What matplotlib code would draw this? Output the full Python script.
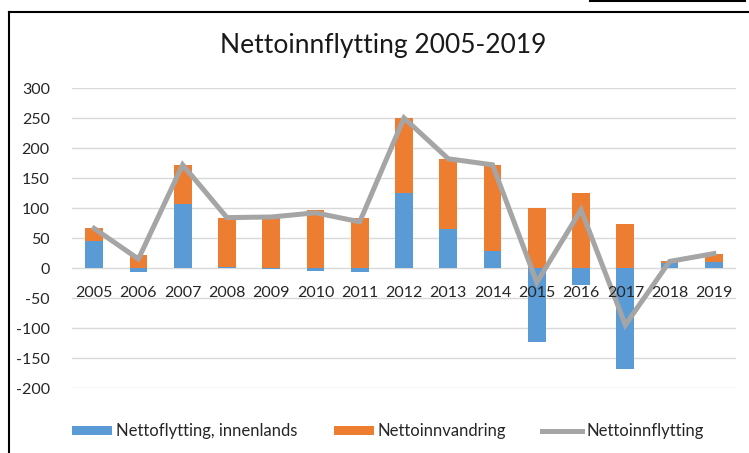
import matplotlib
matplotlib.use("Agg")
import matplotlib.pyplot as plt
from matplotlib.lines import Line2D
import numpy as np

years = ["2005", "2006", "2007", "2008", "2009", "2010", "2011", "2012",
         "2013", "2014", "2015", "2016", "2017", "2018", "2019"]
innenlands = [45, -6, 107, 1, -1, -5, -7, 125, 65, 29, -124, -28, -168, 8, 10]
innvandring = [21, 21, 65, 83, 86, 97, 84, 125, 117, 143, 100, 125, 73, 3, 14]
nettoinnflytting = [66, 15, 172, 84, 85, 92, 77, 250, 182, 172, -24, 97, -95, 11, 24]
yticks = [300, 250, 200, 150, 100, 50, 0, -50, -100, -150, -200]

plt.rcParams['font.family'] = ['Lato', 'DejaVu Sans']

W, H = 749, 453
fig = plt.figure(figsize=(W / 100, H / 100), dpi=100)
ax = fig.add_axes([72 / W, 1 - 388 / H, (736 - 72) / W, 300 / H])

x = np.arange(len(years))
blue = "#5B9BD5"
orange = "#ED7D31"
gray = "#A5A5A5"

inn = np.array(innenlands, dtype=float)
ivd = np.array(innvandring, dtype=float)
pos_base = np.where(inn > 0, inn, 0)
b1 = ax.bar(x, inn, width=0.4, color=blue, zorder=2, label="Nettoflytting, innenlands")
b2 = ax.bar(x, ivd, width=0.4, bottom=pos_base, color=orange, zorder=2, label="Nettoinnvandring")
l1, = ax.plot(x, nettoinnflytting, color=gray, lw=3.6, zorder=3, solid_joinstyle='miter',
              label="Nettoinnflytting")

ax.set_xlim(-0.5, len(years) - 0.5)
ax.set_ylim(-200, 300)
ax.set_yticks(yticks)
ax.set_yticklabels([str(v) for v in yticks], fontsize=11.5, color="#262626")
ax.tick_params(axis='y', length=0, pad=16)
ax.set_xticks([])
ax.grid(axis='y', color="#D9D9D9", lw=1.0, zorder=0)
ax.set_axisbelow(True)
for s in ax.spines.values():
    s.set_visible(False)

for i, yr in enumerate(years):
    ax.text(i, -42, yr, ha='center', va='center', fontsize=11.5, color="#262626")

fig.text(383 / W, 1 - 46 / H, "Nettoinnflytting 2005-2019", ha='center', va='center',
         fontsize=19, color="#1a1a1a")

leg = fig.legend([b1, b2, l1], [b1.get_label(), b2.get_label(), l1.get_label()],
                 loc='center', bbox_to_anchor=(388 / W, 1 - 431 / H),
                 ncol=3, frameon=False, fontsize=12, handlelength=2.4, handleheight=0.45,
                 handletextpad=0.25, columnspacing=2.15)
for t in leg.get_texts():
    t.set_color("#262626")

# frame lines
fig.add_artist(Line2D([8.5 / W, 8.5 / W], [0, 1 - 11.5 / H], transform=fig.transFigure,
                      color='black', lw=1.5))
fig.add_artist(Line2D([8.5 / W, 1], [1 - 11.5 / H, 1 - 11.5 / H], transform=fig.transFigure,
                      color='black', lw=1.5))
fig.add_artist(Line2D([590 / W, 745 / W], [1 - 1 / H, 1 - 1 / H], transform=fig.transFigure,
                      color='black', lw=1.5))

fig.savefig("out.png", dpi=100)
